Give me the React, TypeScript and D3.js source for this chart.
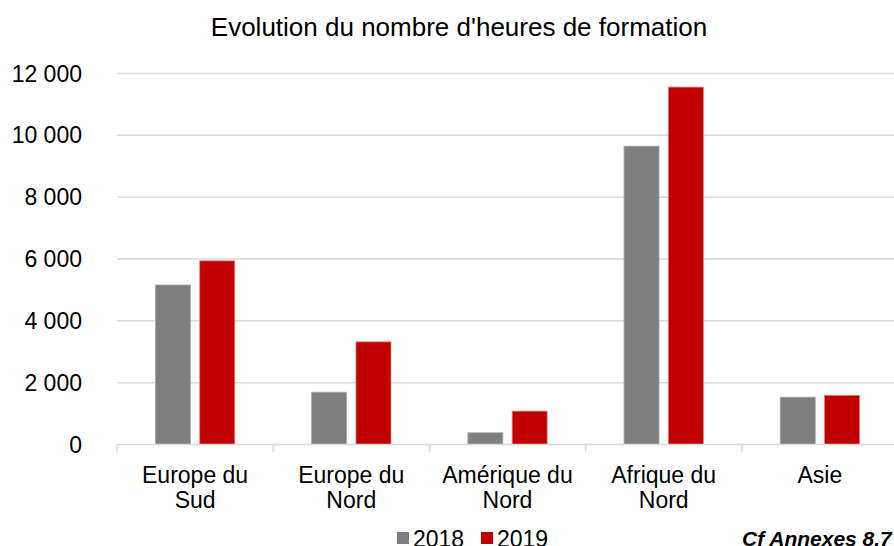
import React from "react";
import * as d3 from "d3";

const categories: string[][] = [
  ["Europe du", "Sud"],
  ["Europe du", "Nord"],
  ["Amérique du", "Nord"],
  ["Afrique du", "Nord"],
  ["Asie"],
];
const series = ["2018", "2019"];
const values2018 = [5160, 1690, 380, 9650, 1530];
const values2019 = [5940, 3320, 1080, 11560, 1590];
const yTicks = [0, 2000, 4000, 6000, 8000, 10000, 12000];
const colors = ["#7f7f7f", "#c00000"];
const strokes = ["#a6a6a6", "#e08080"];

const W = 894;
const H = 546;
const FONT = "'Liberation Sans', Arial, sans-serif";

export default function App() {
  const keys = categories.map((c) => c.join(" "));
  const x0 = d3.scaleBand<string>().domain(keys).range([117, 898]).padding(0);
  const groupW = 79.3;
  const x1 = d3.scaleBand<string>().domain(series).range([0, groupW]).paddingInner(0.21).paddingOuter(0);
  const y = d3.scaleLinear().domain([0, 12000]).range([444.5, 73.5]);
  const fmt = (v: number) => d3.format(",")(v).replace(/,/g, " ");
  const data = [values2018, values2019];

  return (
    <div style={{ position: "fixed", left: 0, top: 0 }}>
      <svg width={W} height={H} style={{ display: "block", fontFamily: FONT }}>
        <rect x={0} y={0} width={W} height={H} fill="#fff" />
        <text x={459} y={36} textAnchor="middle" fontSize={26} fill="#000">
          Evolution du nombre d'heures de formation
        </text>
        {yTicks.map((t) => (
          <g key={t}>
            {t > 0 && (
              <line x1={117} x2={W} y1={y(t)} y2={y(t)} stroke="#d9d9d9" strokeWidth={1.5} />
            )}
            <text x={82} y={y(t)} dy="0.35em" textAnchor="end" fontSize={23} fill="#000">
              {fmt(t)}
            </text>
          </g>
        ))}
        {keys.map((k, i) => {
          const gx = (x0(k) as number) + (x0.bandwidth() - groupW) / 2;
          return (
            <g key={k}>
              {series.map((s, si) => {
                const v = data[si][i];
                return (
                  <rect
                    key={s}
                    x={gx + (x1(s) as number)}
                    y={y(v)}
                    width={x1.bandwidth()}
                    height={y(0) - y(v)}
                    fill={colors[si]}
                    stroke={strokes[si]}
                    strokeWidth={0.8}
                  />
                );
              })}
            </g>
          );
        })}
        <line x1={117} x2={W} y1={y(0)} y2={y(0)} stroke="#d9d9d9" strokeWidth={1.5} />
        {keys.map((k) => (
          <line
            key={"t" + k}
            x1={x0(k) as number}
            x2={x0(k) as number}
            y1={y(0)}
            y2={y(0) + 7}
            stroke="#d9d9d9"
            strokeWidth={1.5}
          />
        ))}
        {categories.map((c, i) => {
          const cx = (x0(keys[i]) as number) + x0.bandwidth() / 2;
          return (
            <text key={"c" + i} textAnchor="middle" fontSize={23} fill="#000">
              {c.map((line, li) => (
                <tspan key={li} x={cx} y={482.5 + li * 25.7}>
                  {line}
                </tspan>
              ))}
            </text>
          );
        })}
        {series.map((s, si) => {
          const lx = si === 0 ? 397 : 481;
          return (
            <g key={"l" + s}>
              <rect x={lx} y={532} width={12} height={12} fill={colors[si]} />
              <text x={lx + 16} y={546.5} fontSize={23} fill="#000">
                {s}
              </text>
            </g>
          );
        })}
        <text x={742} y={546} fontSize={21} fontWeight="bold" fontStyle="italic" fill="#000">
          Cf Annexes 8.7
        </text>
      </svg>
    </div>
  );
}
